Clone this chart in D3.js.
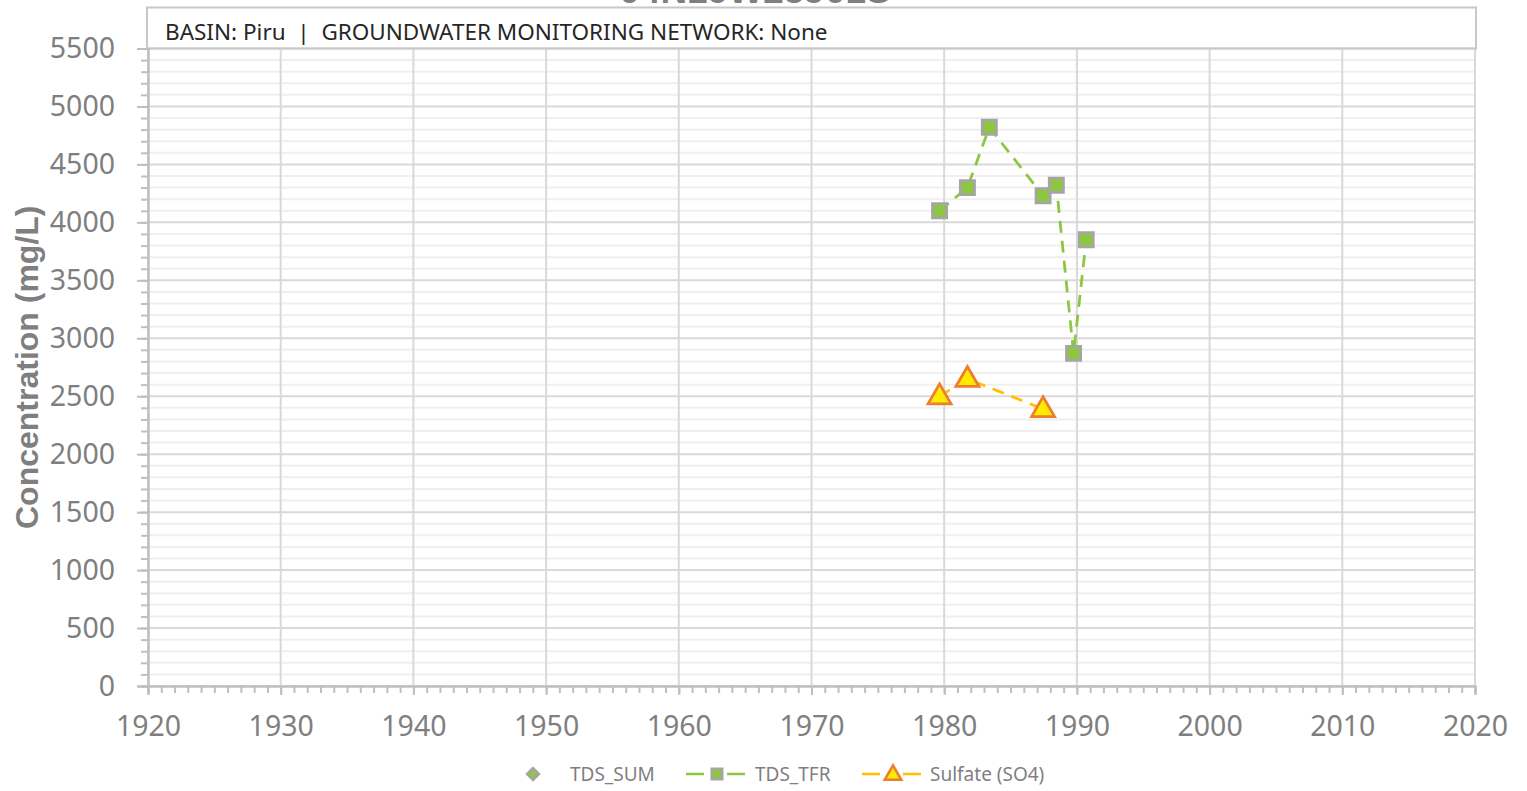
<!DOCTYPE html>
<html>
<head>
<meta charset="utf-8">
<script src="https://cdn.jsdelivr.net/npm/d3@7"></script>
<style>
  body { margin: 0; background: #fff; }
  svg { display: block; }
</style>
</head>
<body>
<svg id="drawing_region" width="1527" height="791"></svg>
<script>
// values
const title = "04N19W25J01S";
const header = "BASIN: Piru  |  GROUNDWATER MONITORING NETWORK: None";
const tfrYears  = [1979.65, 1981.75, 1983.4, 1987.45, 1988.45, 1989.75, 1990.7];
const tfrValues = [4100, 4300, 4820, 4230, 4320, 2870, 3850];
const so4Years  = [1979.65, 1981.75, 1987.45];
const so4Values = [2500, 2650, 2390];
const yTicks = d3.range(0, 5501, 500);
const xTicks = d3.range(1920, 2021, 10);
const seriesNames = ["TDS_SUM", "TDS_TFR", "Sulfate (SO4)"];

const tfr = tfrYears.map((d, i) => ({ x: d, y: tfrValues[i] }));
const so4 = so4Years.map((d, i) => ({ x: d, y: so4Values[i] }));

const svg = d3.select('#drawing_region');
const margin = { top: 48.5, left: 148, right: 52, bottom: 105 };
const W = 1527, H = 791;

const x = d3.scaleLinear().domain([1920, 2020]).range([margin.left, W - margin.right]);
const y = d3.scaleLinear().domain([0, 5500]).range([H - margin.bottom, margin.top]);

const grey = '#7f7f7f';
const green = '#8dc63f';

// minor horizontal grid
svg.append('g').selectAll('line')
  .data(d3.range(0, 5501, 100).filter(v => v % 500 !== 0))
  .join('line')
  .attr('x1', x(1920)).attr('x2', x(2020))
  .attr('y1', d => y(d)).attr('y2', d => y(d))
  .attr('stroke', '#efefef').attr('stroke-width', 2);

// major horizontal grid
svg.append('g').selectAll('line')
  .data(yTicks)
  .join('line')
  .attr('x1', x(1920)).attr('x2', x(2020))
  .attr('y1', d => y(d)).attr('y2', d => y(d))
  .attr('stroke', '#d9d9d9').attr('stroke-width', 2);

// vertical grid
svg.append('g').selectAll('line')
  .data(xTicks)
  .join('line')
  .attr('x1', d => x(d)).attr('x2', d => x(d))
  .attr('y1', y(0)).attr('y2', y(5500))
  .attr('stroke', '#d9d9d9').attr('stroke-width', 2);

// header box
svg.append('rect')
  .attr('x', x(1920) - 1).attr('y', 7.5)
  .attr('width', x(2020) - x(1920) + 2).attr('height', y(5500) - 7.5)
  .attr('fill', 'none').attr('stroke', '#c8c8c8').attr('stroke-width', 2);

svg.append('text')
  .attr('x', 165).attr('y', 40)
  .attr('font-family', 'Noto Sans, sans-serif').attr('font-size', 22.5)
  .attr('fill', '#262626')
  .style('white-space', 'pre')
  .text(header);

// title, cut off by the top edge as in the original
svg.append('text')
  .attr('x', 755).attr('y', 3)
  .attr('text-anchor', 'middle')
  .attr('font-family', 'Liberation Sans, Arial, sans-serif').attr('font-weight', 'bold')
  .attr('font-size', 37).attr('fill', grey)
  .text(title);

// y axis
const yAxis = svg.append('g').attr('transform', `translate(${x(1920)},0)`)
  .call(d3.axisLeft(y).tickValues(yTicks).tickSize(11).tickPadding(22).tickFormat(d3.format('d')));
const yMinor = svg.append('g').attr('transform', `translate(${x(1920)},0)`)
  .call(d3.axisLeft(y).tickValues(d3.range(0, 5501, 100)).tickSize(7).tickFormat(''));

// x axis
const xAxis = svg.append('g').attr('transform', `translate(0,${y(0)})`)
  .call(d3.axisBottom(x).tickValues(xTicks).tickSize(9).tickPadding(21).tickFormat(d3.format('d')));
const xMinor = svg.append('g').attr('transform', `translate(0,${y(0)})`)
  .call(d3.axisBottom(x).tickValues(d3.range(1920, 2021, 1)).tickSize(7).tickFormat(''));

[yAxis, yMinor, xAxis, xMinor].forEach(g => {
  g.select('.domain').attr('stroke', '#bfbfbf').attr('stroke-width', 2);
  g.selectAll('.tick line').attr('stroke', '#bfbfbf').attr('stroke-width', 2);
  g.selectAll('.tick text')
    .attr('fill', grey)
    .attr('font-family', 'Noto Sans, sans-serif')
    .attr('font-size', 28.5);
});
xAxis.selectAll('.tick text').attr('dy', '0.71em');

// y axis title
svg.append('text')
  .attr('transform', `translate(38,${(y(0) + y(5500)) / 2}) rotate(-90)`)
  .attr('text-anchor', 'middle')
  .attr('font-family', 'Liberation Sans, Arial, sans-serif').attr('font-weight', 'bold')
  .attr('font-size', 32).attr('fill', grey)
  .text('Concentration (mg/L)');

// lines
const line = d3.line().x(d => x(d.x)).y(d => y(d.y));

svg.append('path').datum(tfr)
  .attr('d', line).attr('fill', 'none')
  .attr('stroke', green).attr('stroke-width', 2.75).attr('stroke-dasharray', '12,8');

svg.append('path').datum(so4)
  .attr('d', line).attr('fill', 'none')
  .attr('stroke', '#ffc000').attr('stroke-width', 2.75).attr('stroke-dasharray', '12,8');

// markers
const square = d3.symbol().type(d3.symbolSquare).size(200);
const triangle = d3.symbol().type(d3.symbolTriangle).size(230);
const diamond = d3.symbol().type(d3.symbolDiamond2).size(90);

svg.append('g').selectAll('path')
  .data(tfr).join('path')
  .attr('transform', d => `translate(${x(d.x)},${y(d.y)})`)
  .attr('d', square)
  .attr('fill', green).attr('stroke', '#a5a5a5').attr('stroke-width', 2.75);

svg.append('g').selectAll('path')
  .data(so4).join('path')
  .attr('transform', d => `translate(${x(d.x)},${y(d.y) + 1})`)
  .attr('d', triangle)
  .attr('fill', '#ffeb00').attr('stroke', '#ed7d31').attr('stroke-width', 2.75);

// legend
const ly = 774;
const legend = svg.append('g').attr('font-family', 'Noto Sans, sans-serif').attr('font-size', 19).attr('fill', grey);

legend.append('path').attr('transform', `translate(533,${ly})`).attr('d', diamond)
  .attr('fill', green).attr('stroke', '#a5a5a5').attr('stroke-width', 2.5);
legend.append('text').attr('x', 570).attr('y', ly + 7).text(seriesNames[0]);

legend.append('line').attr('x1', 686).attr('x2', 750).attr('y1', ly).attr('y2', ly)
  .attr('stroke', green).attr('stroke-width', 2.5).attr('stroke-dasharray', '18,7,9,7');
legend.append('path').attr('transform', `translate(717,${ly})`).attr('d', d3.symbol().type(d3.symbolSquare).size(110))
  .attr('fill', green).attr('stroke', '#a5a5a5').attr('stroke-width', 2.5);
legend.append('text').attr('x', 755).attr('y', ly + 7).text(seriesNames[1]);

legend.append('line').attr('x1', 862).attr('x2', 925).attr('y1', ly).attr('y2', ly)
  .attr('stroke', '#ffc000').attr('stroke-width', 2.5).attr('stroke-dasharray', '18,7,9,7');
legend.append('path').attr('transform', `translate(893,${ly + 1})`).attr('d', d3.symbol().type(d3.symbolTriangle).size(120))
  .attr('fill', '#ffeb00').attr('stroke', '#ed7d31').attr('stroke-width', 2.5);
legend.append('text').attr('x', 930).attr('y', ly + 7).text(seriesNames[2]);
</script>
</body>
</html>
